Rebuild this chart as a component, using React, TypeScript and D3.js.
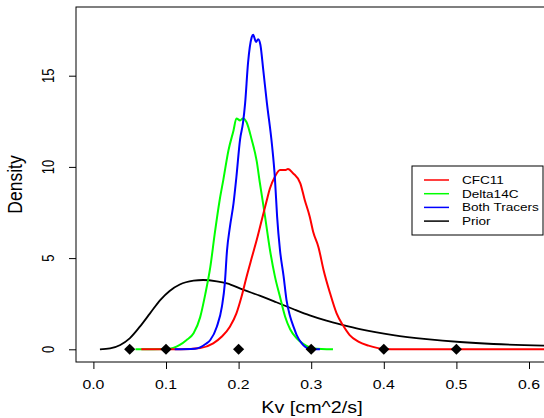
import React, { useEffect, useRef } from 'react';
import * as d3 from 'd3';

// density curves: [Kv, density]
const cfc11: [number, number][] = [
  [0.066, 0], [0.12, 0], [0.147, 0.07], [0.165, 0.33], [0.177, 0.7], [0.188, 1.24],
  [0.197, 1.97], [0.204, 2.88], [0.211, 3.98], [0.218, 5.0], [0.225, 6.0], [0.232, 7.1],
  [0.239, 8.2], [0.243, 8.8], [0.25, 9.46], [0.257, 9.83], [0.264, 9.83], [0.268, 9.88],
  [0.275, 9.65], [0.285, 9.1], [0.291, 8.2], [0.298, 7.27], [0.303, 6.4], [0.31, 5.6],
  [0.317, 4.35], [0.326, 3.07], [0.335, 1.97], [0.344, 1.3], [0.353, 0.78], [0.365, 0.42],
  [0.379, 0.2], [0.4, 0.02], [0.42, 0], [0.66, 0],
];
const delta14c: [number, number][] = [
  [0.058, 0], [0.1, 0.02], [0.11, 0.08], [0.119, 0.24], [0.128, 0.5], [0.138, 0.88],
  [0.147, 1.75], [0.154, 3.0], [0.161, 4.5], [0.167, 6.3], [0.174, 8.2], [0.179, 9.3],
  [0.186, 10.9], [0.193, 12.0], [0.197, 12.66], [0.202, 12.55], [0.206, 12.66], [0.211, 12.45],
  [0.218, 11.5], [0.225, 10.3], [0.229, 9.2], [0.236, 7.4], [0.243, 5.5], [0.25, 4.0],
  [0.257, 2.88], [0.264, 1.8], [0.271, 1.1], [0.28, 0.6], [0.289, 0.3], [0.303, 0.05], [0.33, 0],
];
const bothTracers: [number, number][] = [
  [0.112, 0], [0.14, 0.03], [0.147, 0.11], [0.155, 0.3], [0.161, 0.51], [0.17, 1.24],
  [0.177, 2.34], [0.181, 3.6], [0.184, 5.4], [0.188, 6.7], [0.193, 8.0], [0.197, 9.46],
  [0.202, 11.5], [0.206, 12.4], [0.209, 13.5], [0.213, 15.7], [0.218, 17.1], [0.22, 17.25],
  [0.224, 16.85], [0.227, 17.0], [0.23, 16.7], [0.234, 15.3], [0.239, 13.5], [0.246, 11.2],
  [0.25, 9.4], [0.253, 7.3], [0.257, 5.44], [0.262, 4.0], [0.266, 2.7], [0.271, 1.8],
  [0.276, 1.2], [0.28, 0.78], [0.287, 0.33], [0.296, 0.05], [0.312, 0],
];
const prior: [number, number][] = [
  [0.009, 0], [0.023, 0.05], [0.037, 0.24], [0.05, 0.6], [0.064, 1.24], [0.078, 1.97],
  [0.092, 2.7], [0.105, 3.2], [0.119, 3.55], [0.138, 3.76], [0.151, 3.8], [0.17, 3.73],
  [0.184, 3.62], [0.206, 3.27], [0.229, 2.94], [0.252, 2.58], [0.275, 2.21], [0.298, 1.86],
  [0.321, 1.57], [0.344, 1.33], [0.367, 1.11], [0.413, 0.78], [0.459, 0.56], [0.505, 0.4],
  [0.551, 0.29], [0.62, 0.2], [0.66, 0.17],
];
const markerKv = [0.05, 0.1, 0.2, 0.3, 0.4, 0.5];

const xTicks = [0, 0.1, 0.2, 0.3, 0.4, 0.5, 0.6];
const yTicks = [0, 5, 10, 15];
const legendNames = ['CFC11', 'Delta14C', 'Both Tracers', 'Prior'];
const legendColors = ['#ff0000', '#00ff00', '#0000ff', '#000000'];

const W = 544, H = 418;
const box = { left: 76, top: 7, right: 548, bottom: 362 };
const FONT = 'Liberation Sans, Arial, Helvetica, sans-serif';

export default function App() {
  const ref = useRef<SVGSVGElement>(null);

  useEffect(() => {
    const svg = d3.select(ref.current);
    svg.selectAll('*').remove();

    const x = d3.scaleLinear().domain([0, 0.6]).range([93.4, 529]);
    const y = d3.scaleLinear().domain([0, 15]).range([349.3, 75.7]);

    // stretched text, the original is wider than tall
    const label = (tx: number, ty: number, txt: string, size: number, sx: number, rot = false, anchor = 'middle') =>
      svg.append('text')
        .attr('transform', `translate(${tx},${ty}) scale(${sx},1)${rot ? ' rotate(-90)' : ''}`)
        .attr('text-anchor', anchor)
        .attr('font-family', FONT)
        .attr('font-size', size)
        .attr('fill', '#000')
        .text(txt);

    // plot box
    svg.append('rect')
      .attr('x', box.left).attr('y', box.top)
      .attr('width', box.right - box.left).attr('height', box.bottom - box.top)
      .attr('fill', 'none').attr('stroke', '#000').attr('stroke-width', 1);

    // x axis
    const xa = svg.append('g').attr('transform', `translate(0,${box.bottom})`)
      .call(d3.axisBottom(x).tickValues(xTicks).tickSize(7).tickFormat(() => ''));
    xa.select('.domain').remove();
    xa.selectAll('line').attr('stroke', '#000');
    xTicks.forEach(t => label(x(t), 388.5, d3.format('.1f')(t), 13, 1.22));

    // y axis
    const ya = svg.append('g').attr('transform', `translate(${box.left},0)`)
      .call(d3.axisLeft(y).tickValues(yTicks).tickSize(7).tickFormat(() => ''));
    ya.select('.domain').remove();
    ya.selectAll('line').attr('stroke', '#000');
    yTicks.forEach(t => label(54, y(t), String(t), 13, 1.2, true));

    label(312, 413, 'Kv [cm^2/s]', 17, 1.16);
    label(22, (box.top + box.bottom) / 2, 'Density', 17.5, 1.12, true);

    // curves
    const line = d3.line<[number, number]>()
      .x(d => x(d[0])).y(d => y(d[1]))
      .curve(d3.curveMonotoneX);

    svg.append('clipPath').attr('id', 'plotclip').append('rect')
      .attr('x', box.left).attr('y', box.top)
      .attr('width', box.right - box.left).attr('height', box.bottom - box.top);

    const g = svg.append('g').attr('clip-path', 'url(#plotclip)');
    const series: [[number, number][], string, number][] = [
      [prior, legendColors[3], 1.8],
      [delta14c, legendColors[1], 2],
      [cfc11, legendColors[0], 2],
      [bothTracers, legendColors[2], 2],
    ];
    series.forEach(([data, color, w]) => {
      g.append('path').datum(data)
        .attr('d', line)
        .attr('fill', 'none')
        .attr('stroke', color)
        .attr('stroke-width', w)
        .attr('stroke-linejoin', 'round');
    });

    // diamonds at the sampled Kv values
    const diamond = d3.symbol().type(d3.symbolSquare).size(62);
    g.selectAll('.mark').data(markerKv).enter().append('path')
      .attr('class', 'mark')
      .attr('d', diamond)
      .attr('transform', d => `translate(${x(d)},${y(0)}) rotate(45)`)
      .attr('fill', '#000');

    // legend
    const lg = svg.append('g');
    lg.append('rect').attr('x', 412).attr('y', 166).attr('width', 131).attr('height', 69)
      .attr('fill', '#fff').attr('stroke', '#000').attr('stroke-width', 1);
    legendNames.forEach((name, i) => {
      const ry = 180 + i * 13.7;
      lg.append('line').attr('x1', 424).attr('x2', 449).attr('y1', ry).attr('y2', ry)
        .attr('stroke', legendColors[i]).attr('stroke-width', 1.5);
      svg.append('text')
        .attr('transform', `translate(462,${ry + 4}) scale(1.2,1)`)
        .attr('font-family', FONT).attr('font-size', 11.3).attr('fill', '#000')
        .text(name);
    });
  }, []);

  return (
    <svg ref={ref} width={W} height={H}
      style={{ position: 'absolute', left: 0, top: 0, background: '#fff' }} />
  );
}
